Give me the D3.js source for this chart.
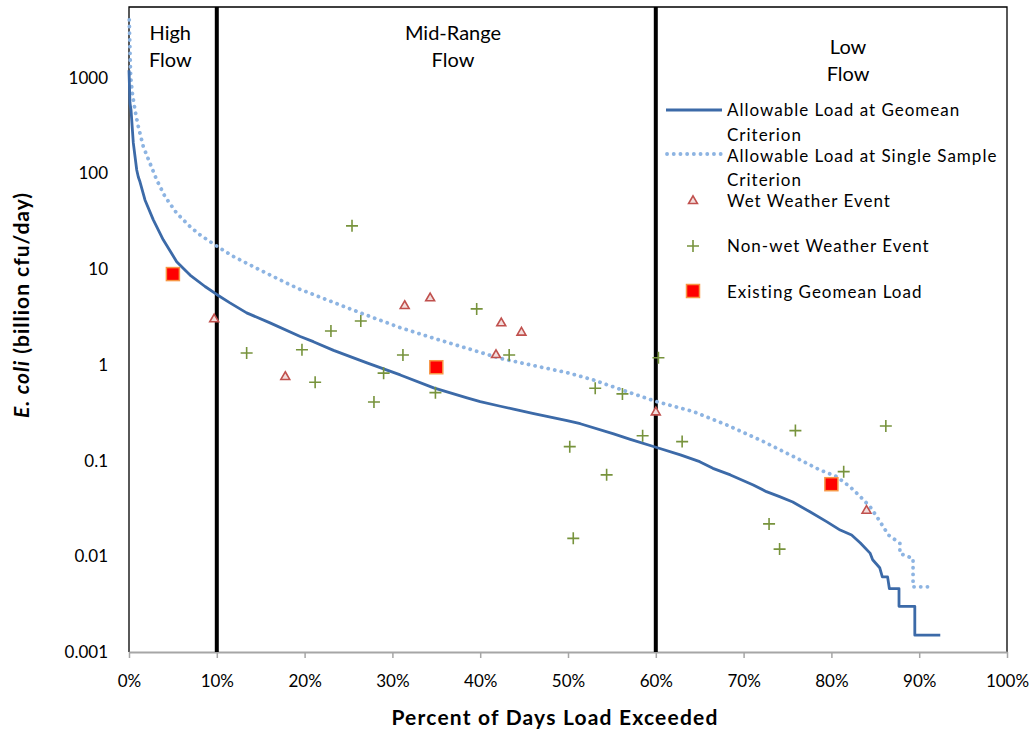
<!DOCTYPE html>
<html>
<head>
<meta charset="utf-8">
<script src="https://cdn.jsdelivr.net/npm/d3@7"></script>
<style>
  body { margin: 0; background: #fff; }
  svg { font-family: Lato, "Open Sans", sans-serif; }
</style>
</head>
<body>
<svg id="chart" width="1035" height="740"></svg>
<script>
// Plot frame (pixel box of the plot area)
const margin = { top: 7, right: 28, bottom: 88, left: 129 };
const width = 1035;
const height = 740;

// Allowable load at geomean criterion (load duration curve)
const geomeanPct = [0, 0.11, 0.23, 0.49, 0.88, 1.06, 1.25, 1.82, 2.77, 3.9, 5.43, 6.95, 8.66, 9.99,
  11.5, 13.4, 16.06, 19.5, 21.0, 23.3, 27.1, 30.9, 34.7, 38.5, 40.0, 42.3, 43.8, 46.1, 47.6, 49.9,
  51.4, 55.2, 57.1, 60.1, 62.8, 65.0, 66.5, 68.5, 71.1, 72.6, 74.1, 75.6, 77.6, 79.5, 81.0, 82.3,
  83.3, 84.4, 84.7, 85.5, 85.8, 86.4, 86.6, 87.7, 87.7, 89.5, 89.5, 92.4];
const geomeanLoad = [1200, 547, 462, 209, 109, 92, 82, 53, 32.8, 20.3, 12.0, 8.7, 6.6, 5.45,
  4.45, 3.5, 2.75, 1.98, 1.75, 1.42, 1.05, 0.786, 0.575, 0.452, 0.413, 0.370, 0.345, 0.310, 0.290, 0.262,
  0.243, 0.190, 0.167, 0.137, 0.115, 0.0975, 0.083, 0.0709, 0.0557, 0.0474, 0.042, 0.037, 0.029, 0.0229, 0.0188, 0.0167,
  0.0138, 0.0108, 0.0092, 0.0076, 0.0061, 0.0061, 0.0046, 0.0046, 0.0030, 0.0030, 0.0015, 0.0015];

// Allowable load at single sample criterion
const singlePct = [0.03, 0.11, 0.19, 0.38, 0.68, 1.06, 1.63, 2.39, 3.15, 4.1, 5.43, 6.95, 8.09, 9.8,
  11.88, 14.9, 17.96, 19.5, 21.0, 23.3, 25.2, 27.1, 30.9, 34.7, 38.5, 42.3, 46.1, 49.9, 52.9, 56.7,
  60.1, 64.3, 68.1, 71.9, 75.7, 78.7, 80.6, 82.1, 83.3, 84.4, 85.3, 86.5, 87.8, 87.8, 89.3, 89.3, 91.6];
const singleLoad = [4040, 1960, 1031, 691, 463, 309, 191, 128, 86, 57.4, 38.5, 27.9, 22.9, 17.9,
  13.6, 9.84, 7.15, 6.15, 5.45, 4.50, 3.85, 3.30, 2.45, 1.90, 1.49, 1.17, 0.984, 0.83, 0.697, 0.526,
  0.413, 0.325, 0.236, 0.164, 0.11, 0.0798, 0.068, 0.0535, 0.042, 0.033, 0.0249, 0.0167, 0.0137, 0.0107, 0.0095, 0.0048, 0.0048];

// Wet weather samples
const wetPct = [9.7, 17.8, 31.4, 34.3, 41.8, 42.4, 44.7, 60.0, 84.0];
const wetLoad = [3.0, 0.75, 4.14, 4.98, 1.27, 2.73, 2.18, 0.32, 0.030];

// Non-wet weather samples
const dryPct = [13.4, 19.7, 21.2, 23.0, 25.4, 26.4, 27.9, 29.0, 31.2, 34.9, 39.6, 43.3, 50.2, 50.6,
  53.1, 54.4, 56.2, 58.5, 60.3, 63.0, 72.9, 74.1, 75.9, 81.4, 86.2];
const dryLoad = [1.33, 1.44, 0.66, 2.26, 28.4, 2.88, 0.41, 0.82, 1.27, 0.513, 3.85, 1.27, 0.14, 0.0154,
  0.57, 0.071, 0.498, 0.182, 1.19, 0.158, 0.0218, 0.0119, 0.206, 0.0767, 0.23];

// Existing geomean load per flow regime
const geoPct = [5, 35, 80];
const geoLoad = [8.9, 0.946, 0.0567];

// Flow regime breaks and labels
const regimeBreaks = [10, 60];
const regimeLabels = [
  { lines: ["High", "Flow"], at: 4.7, row: 0 },
  { lines: ["Mid-Range", "Flow"], at: 36.9, row: 0 },
  { lines: ["Low", "Flow"], at: 81.9, row: 0.5 }
];

const xTicks = d3.range(0, 101, 10);
const yTicks = [0.001, 0.01, 0.1, 1, 10, 100, 1000];

const colors = {
  geomean: "#3C6AA8",
  single: "#8DB4E2",
  wetFill: "#F2DCDB",
  wetStroke: "#C0504D",
  dry: "#77933C",
  geoFill: "#FF0000",
  geoStroke: "#F79646"
};

const zip = (xs, ys) => xs.map((x, i) => ({ x: x, y: ys[i] }));

function draw() {
  const svg = d3.select("#chart");
  const plotW = width - margin.left - margin.right;
  const plotH = height - margin.top - margin.bottom;

  const x = d3.scaleLinear().domain([0, 100]).range([margin.left, margin.left + plotW]);
  const y = d3.scaleLog().domain([0.001, 5500]).range([margin.top + plotH, margin.top]);

  // plot area border (top / right / left)
  svg.append("path")
    .attr("d", `M${x(0)},${y(0.001)}V${margin.top}H${x(100)}V${y(0.001)}`)
    .attr("fill", "none")
    .attr("stroke", "#000")
    .attr("stroke-width", 1.3);

  // bottom axis
  const xAxis = svg.append("g")
    .attr("transform", `translate(0,${y(0.001)})`)
    .call(d3.axisBottom(x).tickValues(xTicks).tickSize(6).tickSizeOuter(0).tickPadding(17)
      .tickFormat(d => d + "%"));
  xAxis.select(".domain").attr("stroke", "#A6A6A6").attr("stroke-width", 2);
  xAxis.selectAll(".tick line").attr("stroke", "#A6A6A6").attr("stroke-width", 1.5);
  xAxis.selectAll("text").attr("font-size", 17).attr("fill", "#000").attr("font-family", "Lato");

  // left axis labels
  const yAxis = svg.append("g")
    .attr("transform", `translate(${margin.left},0)`)
    .call(d3.axisLeft(y).tickValues(yTicks).tickSize(0).tickPadding(21)
      .tickFormat(d => d >= 1 ? d3.format("d")(d) : String(+d.toPrecision(1))));
  yAxis.select(".domain").remove();
  yAxis.selectAll("text").attr("font-size", 17).attr("fill", "#000").attr("font-family", "Lato");

  // regime divider lines
  svg.append("g").selectAll("line")
    .data(regimeBreaks)
    .enter()
    .append("line")
    .attr("x1", d => x(d)).attr("x2", d => x(d))
    .attr("y1", margin.top).attr("y2", y(0.001))
    .attr("stroke", "#000")
    .attr("stroke-width", 4);

  // regime labels
  const regimes = svg.append("g").selectAll("text")
    .data(regimeLabels)
    .enter()
    .append("text")
    .attr("text-anchor", "middle")
    .attr("font-size", 20)
    .attr("fill", "#000");
  regimes.selectAll("tspan")
    .data(d => d.lines.map((l, i) => ({ l: l, i: i, d: d })))
    .enter()
    .append("tspan")
    .attr("x", t => x(t.d.at))
    .attr("y", t => 40 + (t.i + t.d.row) * 27)
    .text(t => t.l);

  // curves
  const line = d3.line().x(d => x(d.x)).y(d => y(d.y));

  svg.append("path")
    .datum(zip(singlePct, singleLoad))
    .attr("d", line)
    .attr("fill", "none")
    .attr("stroke", colors.single)
    .attr("stroke-width", 3.8)
    .attr("stroke-linecap", "round")
    .attr("stroke-dasharray", "0.1 6.6");

  svg.append("path")
    .datum(zip(geomeanPct, geomeanLoad))
    .attr("d", line)
    .attr("fill", "none")
    .attr("stroke", colors.geomean)
    .attr("stroke-width", 2.8)
    .attr("stroke-linejoin", "round");

  // markers
  const triangle = d3.symbol().type(d3.symbolTriangle).size(34);
  const plus = "M-6,0H6M0,-6V6";

  svg.append("g").selectAll("path")
    .data(zip(dryPct, dryLoad))
    .enter()
    .append("path")
    .attr("transform", d => `translate(${x(d.x)},${y(d.y)})`)
    .attr("d", plus)
    .attr("stroke", colors.dry)
    .attr("stroke-width", 1.6)
    .attr("fill", "none");

  svg.append("g").selectAll("path")
    .data(zip(wetPct, wetLoad))
    .enter()
    .append("path")
    .attr("transform", d => `translate(${x(d.x)},${y(d.y)})`)
    .attr("d", triangle)
    .attr("fill", colors.wetFill)
    .attr("stroke", colors.wetStroke)
    .attr("stroke-width", 1.6);

  svg.append("g").selectAll("rect")
    .data(zip(geoPct, geoLoad))
    .enter()
    .append("rect")
    .attr("x", d => x(d.x) - 6.5)
    .attr("y", d => y(d.y) - 6.5)
    .attr("width", 13)
    .attr("height", 13)
    .attr("fill", colors.geoFill)
    .attr("stroke", colors.geoStroke)
    .attr("stroke-width", 1.5);

  // legend
  const legend = svg.append("g")
    .attr("font-size", 17)
    .attr("letter-spacing", 1)
    .attr("fill", "#000");
  const tx = 727;

  legend.append("line").attr("x1", 666).attr("x2", 722).attr("y1", 110).attr("y2", 110)
    .attr("stroke", colors.geomean).attr("stroke-width", 2.8);
  legend.append("text").attr("x", tx).attr("y", 116).text("Allowable Load at Geomean");
  legend.append("text").attr("x", tx).attr("y", 141).text("Criterion");

  legend.append("line").attr("x1", 667).attr("x2", 722).attr("y1", 154).attr("y2", 154)
    .attr("stroke", colors.single).attr("stroke-width", 3.8)
    .attr("stroke-linecap", "round").attr("stroke-dasharray", "0.1 6.6");
  legend.append("text").attr("x", tx).attr("y", 162).text("Allowable Load at Single Sample");
  legend.append("text").attr("x", tx).attr("y", 186).text("Criterion");

  legend.append("path").attr("transform", "translate(693,201)").attr("d", triangle)
    .attr("fill", colors.wetFill).attr("stroke", colors.wetStroke).attr("stroke-width", 1.6);
  legend.append("text").attr("x", tx).attr("y", 207).text("Wet Weather Event");

  legend.append("path").attr("transform", "translate(693,246)").attr("d", plus)
    .attr("stroke", colors.dry).attr("stroke-width", 1.6);
  legend.append("text").attr("x", tx).attr("y", 252).text("Non-wet Weather Event");

  legend.append("rect").attr("x", 686.5).attr("y", 284.5).attr("width", 13).attr("height", 13)
    .attr("fill", colors.geoFill).attr("stroke", colors.geoStroke).attr("stroke-width", 1.5);
  legend.append("text").attr("x", tx).attr("y", 298).text("Existing Geomean Load");

  // axis titles
  svg.append("text")
    .attr("x", 555).attr("y", 725)
    .attr("text-anchor", "middle")
    .attr("font-size", 21).attr("font-weight", "bold")
    .attr("letter-spacing", 1.2)
    .text("Percent of Days Load Exceeded");

  const yTitle = svg.append("text")
    .attr("transform", "translate(29,305) rotate(-90)")
    .attr("text-anchor", "middle")
    .attr("font-size", 21).attr("font-weight", "bold")
    .attr("letter-spacing", 1);
  yTitle.append("tspan").attr("font-style", "italic").text("E. coli");
  yTitle.append("tspan").text(" (billion cfu/day)");
}

draw();
</script>
</body>
</html>
